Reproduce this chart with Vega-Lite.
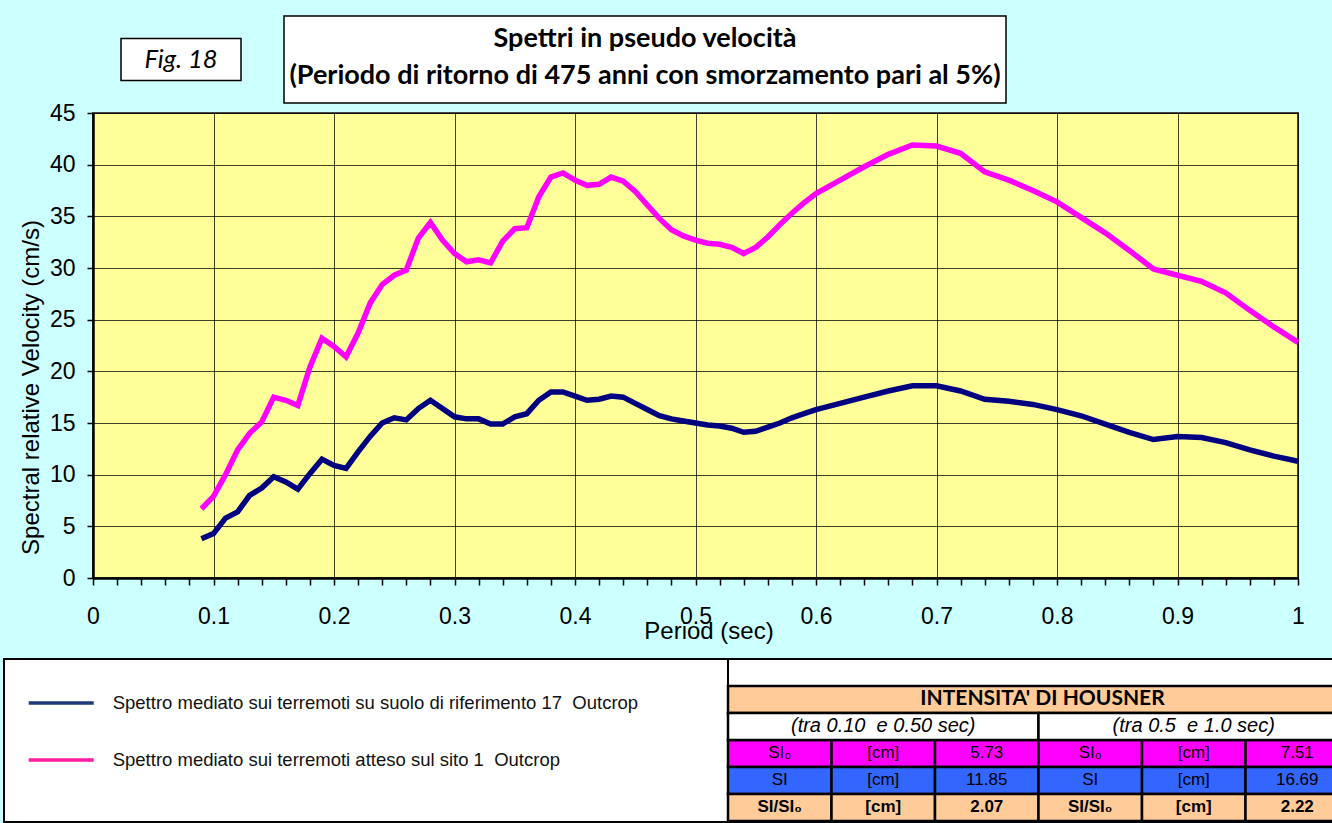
{
  "$schema": "https://vega.github.io/schema/vega-lite/v6.json",
  "background": "#CCFFFF",
  "padding": {"left": 3, "top": 15, "right": 0, "bottom": 0},
  "config": {
    "font": "Liberation Sans",
    "view": {"stroke": null},
    "axis": {"labelColor": "black", "titleColor": "black", "labelFont": "Liberation Sans", "titleFont": "Liberation Sans", "titleFontWeight": "normal"}
  },
  "datasets": {
    "vuoto": [{}],
    "figura": [{"testo": "Fig. 18"}],
    "titolo": [
      {"riga": 1, "testo": "Spettri in pseudo velocità"},
      {"riga": 2, "testo": "(Periodo di ritorno di 475 anni con smorzamento pari al 5%)"}
    ],
    "legenda": [
      {"serie": "Spettro mediato sui terremoti su suolo di riferimento 17\u00a0 Outcrop"},
      {"serie": "Spettro mediato sui terremoti atteso sul sito 1\u00a0 Outcrop"}
    ],
    "testa": [{"riga": "r1", "testo": "INTENSITA' DI HOUSNER", "tipo": "testa"}],
    "intervalli": [
      {"riga": "r2", "meta": "h1", "testo": "(tra 0.10\u00a0 e 0.50 sec)", "tipo": "intervallo"},
      {"riga": "r2", "meta": "h2", "testo": "(tra 0.5\u00a0 e 1.0 sec)", "tipo": "intervallo"}
    ],
    "celle": [
      {"riga": "r3", "col": "c1", "testo": "SI₀", "tipo": "si0"},
      {"riga": "r3", "col": "c2", "testo": "[cm]", "tipo": "si0"},
      {"riga": "r3", "col": "c3", "testo": "5.73", "tipo": "si0"},
      {"riga": "r3", "col": "c4", "testo": "SI₀", "tipo": "si0"},
      {"riga": "r3", "col": "c5", "testo": "[cm]", "tipo": "si0"},
      {"riga": "r3", "col": "c6", "testo": "7.51", "tipo": "si0"},
      {"riga": "r4", "col": "c1", "testo": "SI", "tipo": "si"},
      {"riga": "r4", "col": "c2", "testo": "[cm]", "tipo": "si"},
      {"riga": "r4", "col": "c3", "testo": "11.85", "tipo": "si"},
      {"riga": "r4", "col": "c4", "testo": "SI", "tipo": "si"},
      {"riga": "r4", "col": "c5", "testo": "[cm]", "tipo": "si"},
      {"riga": "r4", "col": "c6", "testo": "16.69", "tipo": "si"},
      {"riga": "r5", "col": "c1", "testo": "SI/SI₀", "tipo": "rapporto"},
      {"riga": "r5", "col": "c2", "testo": "[cm]", "tipo": "rapporto"},
      {"riga": "r5", "col": "c3", "testo": "2.07", "tipo": "rapporto"},
      {"riga": "r5", "col": "c4", "testo": "SI/SI₀", "tipo": "rapporto"},
      {"riga": "r5", "col": "c5", "testo": "[cm]", "tipo": "rapporto"},
      {"riga": "r5", "col": "c6", "testo": "2.22", "tipo": "rapporto"}
    ],
    "spettri": [
      {"serie":"rif","T":0.09,"V":3.8},{"serie":"rif","T":0.10,"V":4.3},{"serie":"rif","T":0.11,"V":5.8},{"serie":"rif","T":0.12,"V":6.4},
      {"serie":"rif","T":0.13,"V":8.0},{"serie":"rif","T":0.14,"V":8.7},{"serie":"rif","T":0.15,"V":9.8},{"serie":"rif","T":0.16,"V":9.3},
      {"serie":"rif","T":0.17,"V":8.6},{"serie":"rif","T":0.18,"V":10.1},{"serie":"rif","T":0.19,"V":11.5},{"serie":"rif","T":0.20,"V":10.9},
      {"serie":"rif","T":0.21,"V":10.6},{"serie":"rif","T":0.22,"V":12.2},{"serie":"rif","T":0.23,"V":13.7},{"serie":"rif","T":0.24,"V":15.0},
      {"serie":"rif","T":0.25,"V":15.5},{"serie":"rif","T":0.26,"V":15.3},{"serie":"rif","T":0.27,"V":16.4},{"serie":"rif","T":0.28,"V":17.2},
      {"serie":"rif","T":0.29,"V":16.4},{"serie":"rif","T":0.30,"V":15.6},{"serie":"rif","T":0.31,"V":15.4},{"serie":"rif","T":0.32,"V":15.4},
      {"serie":"rif","T":0.33,"V":14.9},{"serie":"rif","T":0.34,"V":14.9},{"serie":"rif","T":0.35,"V":15.6},{"serie":"rif","T":0.36,"V":15.9},
      {"serie":"rif","T":0.37,"V":17.2},{"serie":"rif","T":0.38,"V":18.0},{"serie":"rif","T":0.39,"V":18.0},{"serie":"rif","T":0.40,"V":17.6},
      {"serie":"rif","T":0.41,"V":17.2},{"serie":"rif","T":0.42,"V":17.3},{"serie":"rif","T":0.43,"V":17.6},{"serie":"rif","T":0.44,"V":17.5},
      {"serie":"rif","T":0.45,"V":16.9},{"serie":"rif","T":0.46,"V":16.3},{"serie":"rif","T":0.47,"V":15.7},{"serie":"rif","T":0.48,"V":15.4},
      {"serie":"rif","T":0.49,"V":15.2},{"serie":"rif","T":0.50,"V":15.0},{"serie":"rif","T":0.51,"V":14.8},{"serie":"rif","T":0.52,"V":14.7},
      {"serie":"rif","T":0.53,"V":14.5},{"serie":"rif","T":0.54,"V":14.1},{"serie":"rif","T":0.55,"V":14.2},{"serie":"rif","T":0.56,"V":14.6},
      {"serie":"rif","T":0.57,"V":15.0},{"serie":"rif","T":0.58,"V":15.5},{"serie":"rif","T":0.59,"V":15.9},{"serie":"rif","T":0.60,"V":16.3},
      {"serie":"rif","T":0.62,"V":16.9},{"serie":"rif","T":0.64,"V":17.5},{"serie":"rif","T":0.66,"V":18.1},{"serie":"rif","T":0.68,"V":18.6},
      {"serie":"rif","T":0.70,"V":18.6},{"serie":"rif","T":0.72,"V":18.1},{"serie":"rif","T":0.74,"V":17.3},{"serie":"rif","T":0.76,"V":17.1},
      {"serie":"rif","T":0.78,"V":16.8},{"serie":"rif","T":0.80,"V":16.3},{"serie":"rif","T":0.82,"V":15.7},{"serie":"rif","T":0.84,"V":14.9},
      {"serie":"rif","T":0.86,"V":14.1},{"serie":"rif","T":0.88,"V":13.4},{"serie":"rif","T":0.90,"V":13.7},{"serie":"rif","T":0.92,"V":13.6},
      {"serie":"rif","T":0.94,"V":13.1},{"serie":"rif","T":0.96,"V":12.4},{"serie":"rif","T":0.98,"V":11.8},{"serie":"rif","T":1.00,"V":11.3},
      {"serie":"sito","T":0.09,"V":6.7},{"serie":"sito","T":0.10,"V":7.9},{"serie":"sito","T":0.11,"V":10.0},{"serie":"sito","T":0.12,"V":12.4},
      {"serie":"sito","T":0.13,"V":14.0},{"serie":"sito","T":0.14,"V":15.1},{"serie":"sito","T":0.15,"V":17.5},{"serie":"sito","T":0.16,"V":17.2},
      {"serie":"sito","T":0.17,"V":16.7},{"serie":"sito","T":0.18,"V":20.4},{"serie":"sito","T":0.19,"V":23.2},{"serie":"sito","T":0.20,"V":22.4},
      {"serie":"sito","T":0.21,"V":21.4},{"serie":"sito","T":0.22,"V":23.7},{"serie":"sito","T":0.23,"V":26.6},{"serie":"sito","T":0.24,"V":28.4},
      {"serie":"sito","T":0.25,"V":29.3},{"serie":"sito","T":0.26,"V":29.8},{"serie":"sito","T":0.27,"V":32.9},{"serie":"sito","T":0.28,"V":34.4},
      {"serie":"sito","T":0.29,"V":32.7},{"serie":"sito","T":0.30,"V":31.4},{"serie":"sito","T":0.31,"V":30.6},{"serie":"sito","T":0.32,"V":30.8},
      {"serie":"sito","T":0.33,"V":30.5},{"serie":"sito","T":0.34,"V":32.6},{"serie":"sito","T":0.35,"V":33.8},{"serie":"sito","T":0.36,"V":33.9},
      {"serie":"sito","T":0.37,"V":36.9},{"serie":"sito","T":0.38,"V":38.8},{"serie":"sito","T":0.39,"V":39.2},{"serie":"sito","T":0.40,"V":38.5},
      {"serie":"sito","T":0.41,"V":38.0},{"serie":"sito","T":0.42,"V":38.1},{"serie":"sito","T":0.43,"V":38.8},{"serie":"sito","T":0.44,"V":38.4},
      {"serie":"sito","T":0.45,"V":37.4},{"serie":"sito","T":0.46,"V":36.1},{"serie":"sito","T":0.47,"V":34.8},{"serie":"sito","T":0.48,"V":33.7},
      {"serie":"sito","T":0.49,"V":33.1},{"serie":"sito","T":0.50,"V":32.7},{"serie":"sito","T":0.51,"V":32.4},{"serie":"sito","T":0.52,"V":32.3},
      {"serie":"sito","T":0.53,"V":32.0},{"serie":"sito","T":0.54,"V":31.4},{"serie":"sito","T":0.55,"V":32.0},{"serie":"sito","T":0.56,"V":33.0},
      {"serie":"sito","T":0.57,"V":34.2},{"serie":"sito","T":0.58,"V":35.3},{"serie":"sito","T":0.59,"V":36.3},{"serie":"sito","T":0.60,"V":37.2},
      {"serie":"sito","T":0.62,"V":38.5},{"serie":"sito","T":0.64,"V":39.8},{"serie":"sito","T":0.66,"V":41.0},{"serie":"sito","T":0.68,"V":41.9},
      {"serie":"sito","T":0.70,"V":41.8},{"serie":"sito","T":0.72,"V":41.1},{"serie":"sito","T":0.74,"V":39.3},{"serie":"sito","T":0.76,"V":38.5},
      {"serie":"sito","T":0.78,"V":37.5},{"serie":"sito","T":0.80,"V":36.4},{"serie":"sito","T":0.82,"V":34.9},{"serie":"sito","T":0.84,"V":33.4},
      {"serie":"sito","T":0.86,"V":31.7},{"serie":"sito","T":0.88,"V":29.9},{"serie":"sito","T":0.90,"V":29.3},{"serie":"sito","T":0.92,"V":28.7},
      {"serie":"sito","T":0.94,"V":27.6},{"serie":"sito","T":0.96,"V":25.9},{"serie":"sito","T":0.98,"V":24.3},{"serie":"sito","T":1.00,"V":22.8}
    ]
  },
  "resolve": {"scale": {"color": "independent"}, "legend": {"color": "independent"}},
  "spacing": 14,
  "vconcat": [
    {
      "spacing": -3,
      "vconcat": [
        {
          "spacing": 43,
          "bounds": "flush",
          "center": true,
          "hconcat": [
            {"data": {"name": "vuoto"}, "width": 74, "height": 1, "mark": "text", "encoding": {"text": {"value": ""}}},
            {
              "data": {"name": "figura"}, "width": 120, "height": 42,
              "view": {"fill": "white", "stroke": "black", "strokeWidth": 1.5},
              "mark": {"type": "text", "font": "Lato", "fontStyle": "italic", "fontSize": 25.5, "color": "black"},
              "encoding": {"text": {"field": "testo"}}
            },
            {
              "data": {"name": "titolo"}, "width": 722, "height": 87,
              "view": {"fill": "white", "stroke": "black", "strokeWidth": 1.5},
              "mark": {"type": "text", "font": "Lato", "fontWeight": "bold", "fontSize": 27, "baseline": "alphabetic", "color": "black"},
              "encoding": {
                "y": {"field": "riga", "type": "ordinal", "scale": {"type": "point", "padding": 0.676, "align": 0.62}, "axis": null},
                "text": {"field": "testo"}
              }
            }
          ]
        },
        {
          "spacing": 80,
          "bounds": "flush",
          "hconcat": [
            {"data": {"name": "vuoto"}, "width": 9, "height": 1, "mark": "text", "encoding": {"text": {"value": ""}}},
            {
              "data": {"name": "spettri"},
              "width": 1205, "height": 465,
              "view": {"fill": "#FFFF99", "stroke": "#444444", "strokeWidth": 2},
              "mark": {"type": "line", "strokeWidth": 5.5},
              "encoding": {
                "x": {
                  "field": "T", "type": "quantitative",
                  "scale": {"domain": [0, 1], "nice": false, "zero": false},
                  "axis": {
                    "values": [0,0.02,0.04,0.06,0.08,0.1,0.12,0.14,0.16,0.18,0.2,0.22,0.24,0.26,0.28,0.3,0.32,0.34,0.36,0.38,0.4,0.42,0.44,0.46,0.48,0.5,0.52,0.54,0.56,0.58,0.6,0.62,0.64,0.66,0.68,0.7,0.72,0.74,0.76,0.78,0.8,0.82,0.84,0.86,0.88,0.9,0.92,0.94,0.96,0.98,1],
                    "labelExpr": "round(datum.value*50) % 5 == 0 ? format(datum.value, '.1~f') : ''",
                    "labelFontSize": 23, "labelPadding": 20, "labelFlush": false, "labelOverlap": false,
                    "tickSize": 7, "tickWidth": 1.5, "tickColor": "black",
                    "domainColor": "black", "domainWidth": 2.5,
                    "grid": true, "gridColor": "black", "gridWidth": 1,
                    "gridOpacity": {"condition": {"test": "round(datum.value*50) % 5 == 0", "value": 0.75}, "value": 0},
                    "title": "Period (sec)", "titleFontSize": 24, "titleX": 615.5, "titleY": 60,
                    "titleBaseline": "alphabetic", "titleAlign": "center"
                  }
                },
                "y": {
                  "field": "V", "type": "quantitative",
                  "scale": {"domain": [0, 45], "nice": false},
                  "axis": {
                    "values": [0,5,10,15,20,25,30,35,40,45],
                    "labelFontSize": 23, "labelPadding": 12,
                    "tickSize": 6, "tickWidth": 1.5, "tickColor": "black",
                    "domainColor": "black", "domainWidth": 2.5,
                    "grid": true, "gridColor": "black", "gridWidth": 1, "gridOpacity": 0.75,
                    "title": "Spectral relative Velocity (cm/s)", "titleFontSize": 24,
                    "titleX": -55, "titleY": 274, "titleAngle": -90,
                    "titleBaseline": "alphabetic", "titleAlign": "center"
                  }
                },
                "color": {
                  "field": "serie", "type": "nominal",
                  "scale": {"domain": ["rif", "sito"], "range": ["#000080", "#FF00FF"]},
                  "legend": null
                }
              }
            }
          ]
        }
      ]
    },
    {
      "spacing": 0,
      "bounds": "flush",
      "hconcat": [
        {
          "data": {"name": "legenda"},
          "width": 724, "height": 163,
          "view": {"fill": "white", "stroke": "black", "strokeWidth": 2},
          "mark": {"type": "line", "strokeWidth": 3.5},
          "encoding": {
            "color": {
              "field": "serie", "type": "nominal", "sort": null,
              "scale": {
                "domain": ["Spettro mediato sui terremoti su suolo di riferimento 17\u00a0 Outcrop", "Spettro mediato sui terremoti atteso sul sito 1\u00a0 Outcrop"],
                "range": ["#1F3A7A", "#FF1AA0"]
              },
              "legend": {
                "orient": "none", "legendX": 22.7, "legendY": 9.5, "title": null,
                "symbolType": "stroke", "symbolSize": 4225, "symbolStrokeWidth": 3.5,
                "labelFont": "Liberation Sans", "labelFontSize": 18.5, "labelColor": "#111111",
                "labelLimit": 900, "labelOffset": 17, "rowPadding": 13, "padding": 0, "direction": "vertical"
              }
            }
          }
        },
        {
          "width": 621, "height": 163,
          "view": {"fill": "white", "stroke": "black", "strokeWidth": 2},
          "resolve": {"scale": {"x": "independent"}},
          "layer": [
            {
              "data": {"name": "celle"},
              "mark": {"type": "rect", "stroke": "black", "strokeWidth": 2.5},
              "encoding": {
                "x": {"field": "col", "type": "nominal", "scale": {"domain": ["c1","c2","c3","c4","c5","c6"], "paddingInner": 0, "paddingOuter": 0}, "axis": null},
                "y": {"field": "riga", "type": "nominal", "scale": {"domain": ["r1","r2","r3","r4","r5"], "paddingInner": 0, "paddingOuter": 0.5185, "align": 0.964}, "axis": null},
                "fill": {"field": "tipo", "type": "nominal", "scale": {"domain": ["testa","intervallo","si0","si","rapporto"], "range": ["#FFCC99","#FFFFFF","#FF00FF","#3366FF","#FFCC99"]}, "legend": null}
              }
            },
            {
              "data": {"name": "celle"},
              "transform": [{"filter": "datum.riga != 'r5'"}],
              "mark": {"type": "text", "font": "Liberation Sans", "fontSize": 17, "color": "black"},
              "encoding": {
                "x": {"field": "col", "type": "nominal", "scale": {"domain": ["c1","c2","c3","c4","c5","c6"], "paddingInner": 0, "paddingOuter": 0}, "axis": null},
                "y": {"field": "riga", "type": "nominal", "scale": {"domain": ["r1","r2","r3","r4","r5"], "paddingInner": 0, "paddingOuter": 0.5185, "align": 0.964}, "axis": null},
                "text": {"field": "testo"}
              }
            },
            {
              "data": {"name": "celle"},
              "transform": [{"filter": "datum.riga == 'r5'"}],
              "mark": {"type": "text", "font": "Liberation Sans", "fontSize": 17, "fontWeight": "bold", "color": "black"},
              "encoding": {
                "x": {"field": "col", "type": "nominal", "scale": {"domain": ["c1","c2","c3","c4","c5","c6"], "paddingInner": 0, "paddingOuter": 0}, "axis": null},
                "y": {"field": "riga", "type": "nominal", "scale": {"domain": ["r1","r2","r3","r4","r5"], "paddingInner": 0, "paddingOuter": 0.5185, "align": 0.964}, "axis": null},
                "text": {"field": "testo"}
              }
            },
            {
              "data": {"name": "testa"},
              "mark": {"type": "rect", "stroke": "black", "strokeWidth": 2.5},
              "encoding": {
                "y": {"field": "riga", "type": "nominal", "scale": {"domain": ["r1","r2","r3","r4","r5"], "paddingInner": 0, "paddingOuter": 0.5185, "align": 0.964}, "axis": null},
                "fill": {"field": "tipo", "type": "nominal", "scale": {"domain": ["testa","intervallo","si0","si","rapporto"], "range": ["#FFCC99","#FFFFFF","#FF00FF","#3366FF","#FFCC99"]}, "legend": null}
              }
            },
            {
              "data": {"name": "testa"},
              "mark": {"type": "text", "font": "Lato", "fontSize": 21, "fontWeight": "bold", "color": "black", "dx": 4},
              "encoding": {
                "y": {"field": "riga", "type": "nominal", "scale": {"domain": ["r1","r2","r3","r4","r5"], "paddingInner": 0, "paddingOuter": 0.5185, "align": 0.964}, "axis": null},
                "text": {"field": "testo"}
              }
            },
            {
              "data": {"name": "intervalli"},
              "mark": {"type": "rect", "stroke": "black", "strokeWidth": 2.5},
              "encoding": {
                "x": {"field": "meta", "type": "nominal", "scale": {"domain": ["h1","h2"], "paddingInner": 0, "paddingOuter": 0}, "axis": null},
                "y": {"field": "riga", "type": "nominal", "scale": {"domain": ["r1","r2","r3","r4","r5"], "paddingInner": 0, "paddingOuter": 0.5185, "align": 0.964}, "axis": null},
                "fill": {"field": "tipo", "type": "nominal", "scale": {"domain": ["testa","intervallo","si0","si","rapporto"], "range": ["#FFCC99","#FFFFFF","#FF00FF","#3366FF","#FFCC99"]}, "legend": null}
              }
            },
            {
              "data": {"name": "intervalli"},
              "mark": {"type": "text", "font": "Liberation Sans", "fontSize": 20, "fontStyle": "italic", "color": "black"},
              "encoding": {
                "x": {"field": "meta", "type": "nominal", "scale": {"domain": ["h1","h2"], "paddingInner": 0, "paddingOuter": 0}, "axis": null},
                "y": {"field": "riga", "type": "nominal", "scale": {"domain": ["r1","r2","r3","r4","r5"], "paddingInner": 0, "paddingOuter": 0.5185, "align": 0.964}, "axis": null},
                "text": {"field": "testo"}
              }
            }
          ]
        }
      ]
    }
  ]
}
